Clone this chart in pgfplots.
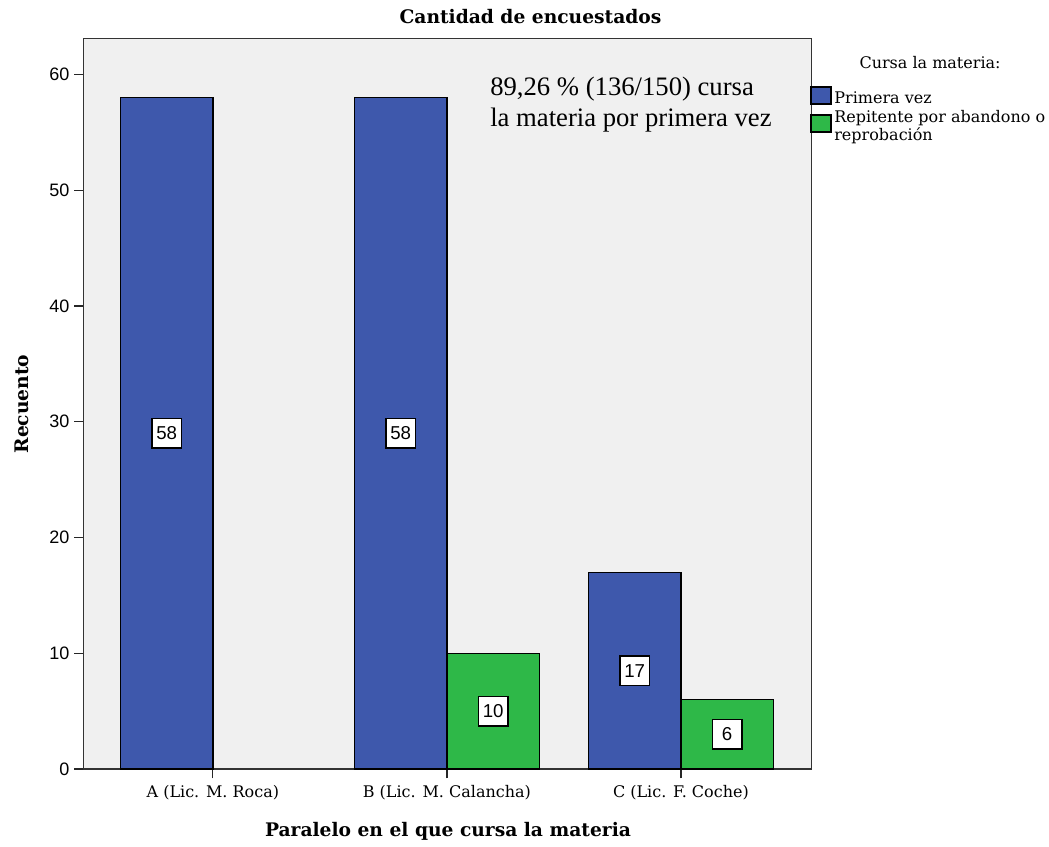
\documentclass[border=0pt]{standalone}
\usepackage{pgfplots}
\pgfplotsset{compat=1.18}
\usepackage{fontspec}
\setmainfont{DejaVu Serif}
\newfontfamily\numfont{Liberation Sans}
\newfontfamily\notefont{Liberation Serif}
\definecolor{spssblue}{HTML}{3E58AC}
\definecolor{spssgreen}{HTML}{2EB848}
\definecolor{plotbg}{HTML}{F0F0F0}

\begin{document}
\begin{tikzpicture}
\useasboundingbox (-62.6pt,-57.75pt) rectangle (724.1pt,576.75pt);
\begin{axis}[
  scale only axis,
  width=546pt, height=547.9pt,
  xmin=-0.553, xmax=2.558,
  ymin=0, ymax=63.1,
  clip=false,
  ybar,
  bar width=0.395,
  axis background/.style={fill=plotbg},
  axis line style={draw=black!80, line width=1pt},
  tick pos=left,
  tick align=outside,
  major tick length=7pt,
  tick style={black!85, line width=0.9pt},
  xtick={0,1,2},
  xticklabels={A (Lic. M. Roca), B (Lic. M. Calancha), C (Lic. F. Coche)},
  ytick={0,10,...,60},
  xticklabel style={font=\fontsize{12}{14}\selectfont, yshift=-2pt},
  yticklabel style={font=\numfont\fontsize{13.5}{16}\selectfont},
  /pgf/number format/assume math mode=true,
  title={Cantidad de encuestados},
  title style={at={(axis description cs:0.614,1.019)}, anchor=center,
    font=\bfseries\fontsize{14}{16}\selectfont},
  xlabel={Paralelo en el que cursa la materia},
  xlabel style={at={(axis description cs:0.5007,-0.0849)}, anchor=center,
    font=\bfseries\fontsize{14}{16}\selectfont},
  ylabel={Recuento},
  ylabel style={at={(axis description cs:-0.0845,0.4997)}, anchor=center,
    font=\bfseries\fontsize{14}{16}\selectfont},
  nodes near coords,
  visualization depends on={rawy \as \rawy},
  every node near coord/.append style={
    shift={(axis direction cs:0,-\rawy/2)}, anchor=center,
    fill=white, draw=black, line width=1.1pt, text=black,
    minimum size=22pt, inner sep=0pt,
    font=\numfont\fontsize{14}{16}\selectfont},
  legend style={at={(axis description cs:0.998,0.935)}, anchor=north west,
    draw=none, fill=none, inner sep=0pt, row sep=4pt,
    font=\fontsize{12}{13}\selectfont,
    nodes={align=left, inner xsep=2pt, inner ysep=0pt}},
  legend cell align=left,
  legend image code/.code={\draw[#1] (0pt,-4pt) rectangle (15pt,8.75pt);},
]
% first-time students
\addplot[fill=spssblue, draw=black, line width=1pt, bar shift=-0.1975]
  coordinates {(0,58) (1,58) (2,17)};
\addlegendentry{Primera vez}
% repeating students
\addplot[fill=spssgreen, draw=black, line width=1pt, bar shift=0.1975]
  coordinates {(1,10) (2,6)};
\addlegendentry{Repitente por abandono o\\reprobación}

\node[font=\fontsize{12}{14}\selectfont, anchor=center]
  at (axis description cs:1.1628,0.9665) {Cursa la materia:};
\node[anchor=north west, inner sep=0pt, align=left,
  font=\notefont\fontsize{20}{23.25}\selectfont]
  at (axis description cs:0.5584,0.948)
  {89,26 \% (136/150) cursa\\la materia por primera vez};
\end{axis}
\end{tikzpicture}
\end{document}
